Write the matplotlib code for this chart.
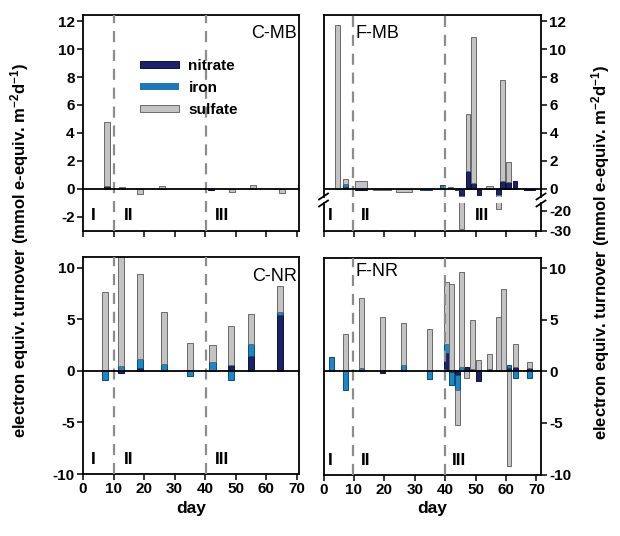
import numpy as np
import matplotlib
matplotlib.use("Agg")
import matplotlib.pyplot as plt
from matplotlib.lines import Line2D

plt.rcParams['font.family'] = ['Liberation Sans', 'DejaVu Sans']
plt.rcParams['font.weight'] = 'bold'
plt.rcParams['axes.unicode_minus'] = False
plt.rcParams['mathtext.fontset'] = 'custom'
plt.rcParams['mathtext.rm'] = 'Liberation Sans:bold'
plt.rcParams['mathtext.bf'] = 'Liberation Sans:bold'
plt.rcParams['mathtext.default'] = 'rm'

# ---------------- data ----------------
components = ["nitrate", "iron", "sulfate"]

# C-MB
cmb_day     = [7.8, 12.9, 18.8, 25.8, 41.9, 48.9, 55.5, 65.0]
cmb_nitrate = [0.2, 0.0, 0.0, 0.0, -0.1, 0.0, 0.0, 0.0]
cmb_iron    = [0.0, 0.0, 0.0, 0.0, 0.0, 0.0, 0.0, 0.0]
cmb_sulfate = [4.6, 0.1, -0.38, 0.19, 0.0, -0.26, 0.25, -0.3]

# F-MB
fmb_day     = [4.7, 7.2, 12.4, 19.3, 26.4, 33.7, 39.1, 41.7, 43.9, 45.4, 47.5,
               49.3, 51.1, 54.5, 57.5, 58.9, 60.9, 62.9, 67.6]
fmb_nitrate = [0.0, 0.1, -0.1, 0.0, 0.0, 0.0, 0.0, 0.0, 0.0, -0.5, 1.27,
               0.38, -0.45, 0.0, -0.45, 0.52, 0.44, 0.55, -0.08]
fmb_iron    = [0.0, 0.2, 0.0, 0.0, 0.0, -0.08, 0.24, 0.0, -0.12, 0.0, 0.0,
               0.0, 0.0, 0.0, 0.0, 0.0, 0.0, 0.0, 0.0]
fmb_sulfate = [11.75, 0.37, 0.57, -0.08, -0.22, 0.0, 0.0, 0.15, 0.0, -28.7, 4.06,
               10.48, 0.0, 0.18, -18.4, 7.28, 1.5, 0.0, 0.0]
fmb_width   = [1.7, 1.7, 4.0, 6.0, 5.2, 4.2, 1.6, 1.6, 1.5, 1.5, 1.5,
               1.5, 1.5, 2.4, 1.5, 1.5, 1.5, 1.5, 3.6]

# C-NR
cnr_day     = [7.3, 12.4, 18.7, 26.4, 34.9, 42.4, 48.5, 54.9, 64.4]
cnr_nitrate = [0.0, -0.2, 0.3, 0.0, 0.1, 0.1, 0.55, 1.48, 5.43]
cnr_iron    = [-0.9, 0.45, 0.8, 0.7, -0.5, 0.78, -0.9, 1.16, 0.29]
cnr_sulfate = [7.6, 11.0, 8.3, 4.96, 2.57, 1.62, 3.79, 2.89, 2.51]

# F-NR
fnr_day     = [2.5, 7.2, 12.4, 19.3, 26.4, 34.9, 40.4, 42.0, 44.0, 45.5, 47.1,
               48.9, 51.0, 54.6, 57.6, 59.2, 61.0, 63.2, 67.8]
fnr_nitrate = [0.0, 0.0, 0.0, -0.15, 0.0, 0.0, 1.78, -0.1, -0.4, 0.0, 0.4,
               0.0, -0.97, 0.0, 0.0, 0.0, 0.3, 0.4, 0.35]
fnr_iron    = [1.42, -1.8, 0.36, 0.0, 0.65, -0.75, 0.82, -1.26, -1.45, 0.45, 0.0,
               0.2, 0.0, 0.2, 0.0, 0.0, 0.35, -0.65, -0.65]
fnr_sulfate = [0.0, 3.62, 6.76, 5.3, 3.99, 4.05, 6.04, 8.5, -3.39, 9.19, -0.65,
               4.8, 1.13, 1.45, 5.27, 7.93, -9.2, 2.25, 0.52]

phase_left = [10.2, 40.3]
phase_right = [9.8, 40.1]
phase_names = ["I", "II", "III"]

NAVY = "#1b2268"
BLUE = "#1a87c6"
GRAY = "#c3c3c3"
colors = [NAVY, BLUE, GRAY]
edges = ["#0e1240", "#0e4a72", "#6a6a6a"]

W, H = 620, 536
fig = plt.figure(figsize=(6.2, 5.36), dpi=100)


def rect(x0, y0, x1, y1):
    return [x0 / W, 1 - y1 / H, (x1 - x0) / W, (y1 - y0) / H]


def stacked(ax, days, nit, iron, sulf, width, legend=False):
    days = np.asarray(days, float)
    width = np.broadcast_to(np.asarray(width, float), days.shape)
    pos_base = np.zeros(len(days))
    neg_base = np.zeros(len(days))
    for vals, c, ec, lab in zip([nit, iron, sulf], colors, edges, components):
        v = np.asarray(vals, float)
        pos = np.where(v > 0, v, 0.0)
        neg = np.where(v < 0, v, 0.0)
        mp = pos != 0
        mn = neg != 0
        ax.bar(days[mp], pos[mp], width[mp], bottom=pos_base[mp], color=c,
               edgecolor=ec, linewidth=0.7, zorder=2,
               label=lab if legend else None)
        ax.bar(days[mn], neg[mn], width[mn], bottom=neg_base[mn], color=c,
               edgecolor=ec, linewidth=0.7, zorder=2)
        pos_base += pos
        neg_base += neg


def style(ax, right=False):
    for s in ax.spines.values():
        s.set_linewidth(1.3)
    ax.tick_params(direction='out', length=4, width=1.1, labelsize=11, pad=2)
    if right:
        ax.yaxis.tick_right()
    ax.set_xticks(np.arange(0, 71, 10))


def phases(ax, xs):
    for x in xs:
        ax.axvline(x, color="#8c8c8c", ls=(0, (5, 3.5)), lw=1.6, zorder=3)


def numerals(ax, xs, y):
    for name, x in zip(phase_names, xs):
        ax.text(x, y, name, fontsize=12.5, fontweight='bold', ha='center',
                va='center')


# ---- C-MB ----
ax1 = fig.add_axes(rect(83, 15, 299, 231))
stacked(ax1, cmb_day, cmb_nitrate, cmb_iron, cmb_sulfate, 2.0, legend=True)
ax1.axhline(0, color='k', lw=1.3, zorder=4)
phases(ax1, phase_left)
ax1.set_xlim(0, 70.7)
ax1.set_ylim(-3.03, 12.45)
ax1.set_yticks(np.arange(-2, 13, 2))
style(ax1)
ax1.set_xticklabels([])
numerals(ax1, [3.4, 14.8, 45.5], -1.95)
ax1.text(0.988, 0.955, "C-MB", transform=ax1.transAxes, ha='right', va='top',
         fontsize=13, fontweight='normal')
ax1.legend(loc='upper left', bbox_to_anchor=(0.262, 0.797), frameon=False,
           fontsize=11, handlelength=2.6, handleheight=0.35,
           handletextpad=0.6, labelspacing=0.52, borderpad=0,
           borderaxespad=0)

# ---- F-MB (broken axis) ----
ax2u = fig.add_axes(rect(323.5, 15, 541, 197))
ax2l = fig.add_axes(rect(323.5, 203, 541, 231))
for ax in (ax2u, ax2l):
    stacked(ax, fmb_day, fmb_nitrate, fmb_iron, fmb_sulfate, fmb_width)
    phases(ax, phase_right)
    ax.set_xlim(0, 71.5)
    style(ax, right=True)
    ax.set_xticklabels([])
ax2u.axhline(0, color='k', lw=1.3, zorder=4)
ax2u.set_ylim(-0.6, 12.45)
ax2u.set_yticks(np.arange(0, 13, 2))
ax2u.spines['bottom'].set_visible(False)
ax2u.tick_params(axis='x', bottom=False)
ax2l.set_ylim(-30, -16)
ax2l.set_yticks([-20, -30])
ax2l.spines['top'].set_visible(False)
ax2u.text(0.145, 0.945, "F-MB", transform=ax2u.transAxes, ha='left', va='top',
          fontsize=13, fontweight='normal')
numerals(ax2l, [2.2, 13.8, 52.0], -22.5)
# break marks
for xb in (323.5, 541):
    for yb in (196.5, 203.5):
        fig.add_artist(Line2D([(xb - 4.5) / W, (xb + 4.5) / W],
                              [1 - (yb + 3) / H, 1 - (yb - 3) / H],
                              color='k', lw=1.3))

# ---- C-NR ----
ax3 = fig.add_axes(rect(83, 257, 299, 474))
stacked(ax3, cnr_day, cnr_nitrate, cnr_iron, cnr_sulfate, 2.0)
ax3.axhline(0, color='k', lw=1.3, zorder=4)
phases(ax3, phase_left)
ax3.set_xlim(0, 70.7)
ax3.set_ylim(-10, 11.03)
ax3.set_yticks([-10, -5, 0, 5, 10])
style(ax3)
numerals(ax3, [3.5, 14.9, 45.5], -8.6)
ax3.text(0.99, 0.95, "C-NR", transform=ax3.transAxes, ha='right', va='top',
         fontsize=13, fontweight='normal')
ax3.set_xlabel("day", fontsize=12.5, fontweight='bold', labelpad=3)

# ---- F-NR ----
ax4 = fig.add_axes(rect(323.5, 258, 541, 475))
stacked(ax4, fnr_day, fnr_nitrate, fnr_iron, fnr_sulfate, 1.6)
ax4.axhline(0, color='k', lw=1.3, zorder=4)
phases(ax4, phase_right)
ax4.set_xlim(0, 71.5)
ax4.set_ylim(-10.04, 10.97)
ax4.set_yticks([-10, -5, 0, 5, 10])
style(ax4, right=True)
numerals(ax4, [2.2, 13.8, 44.5], -8.6)
ax4.text(0.145, 0.975, "F-NR", transform=ax4.transAxes, ha='left', va='top',
         fontsize=13, fontweight='normal')
ax4.set_xlabel("day", fontsize=12.5, fontweight='bold', labelpad=3)

ylab = "electron equiv. turnover (mmol e-equiv. m$^{-2}$d$^{-1}$)"
fig.text(20 / W, 1 - 250 / H, ylab, rotation=90, ha='center', va='center',
         fontsize=12, fontweight='bold')
fig.text(601 / W, 1 - 252 / H, ylab, rotation=90, ha='center', va='center',
         fontsize=12, fontweight='bold')

fig.savefig("out.png", dpi=100)
